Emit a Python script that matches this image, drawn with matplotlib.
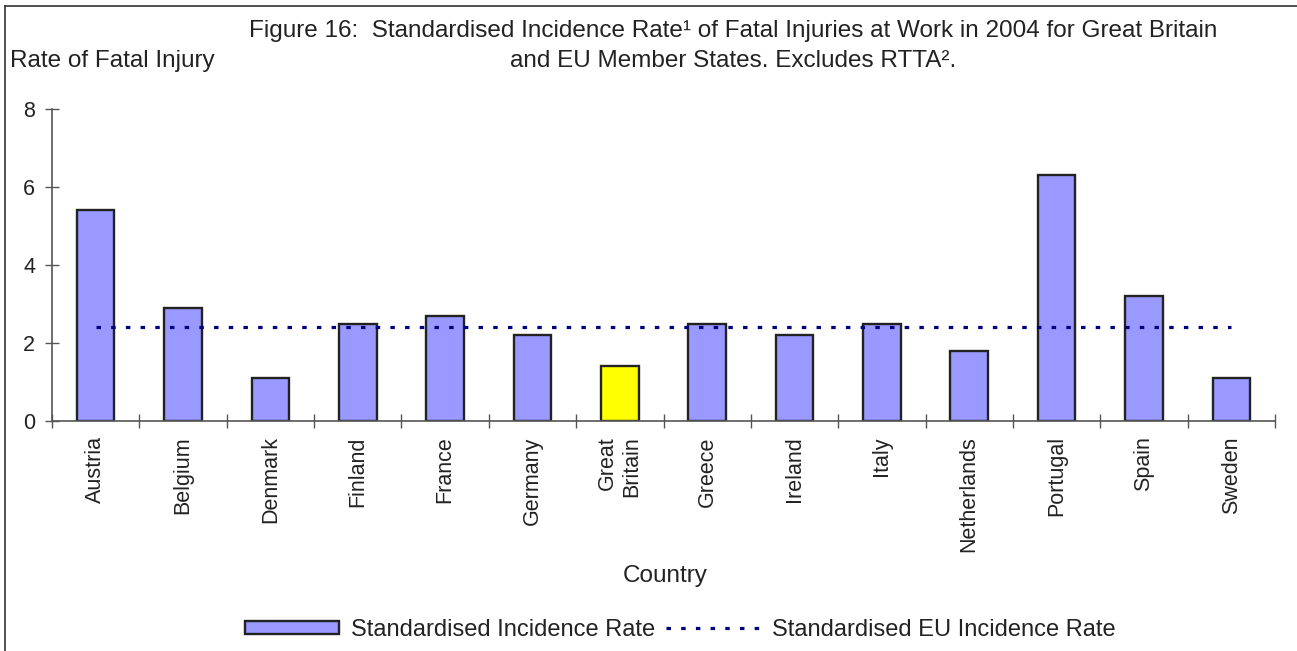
import numpy as np
import matplotlib
matplotlib.use("Agg")
import matplotlib.pyplot as plt
from matplotlib.lines import Line2D
from matplotlib.patches import Patch

plt.rcParams['font.family'] = ['Liberation Sans', 'DejaVu Sans']

# data
countries = ['Austria', 'Belgium', 'Denmark', 'Finland', 'France', 'Germany',
             'Great\nBritain', 'Greece', 'Ireland', 'Italy', 'Netherlands',
             'Portugal', 'Spain', 'Sweden']
rates = [5.4, 2.9, 1.1, 2.5, 2.7, 2.2, 1.4, 2.5, 2.2, 2.5, 1.8, 6.3, 3.2, 1.1]
eu_rate = 2.4
highlight = 'Great\nBritain'
y_ticks = [0, 2, 4, 6, 8]

BAR_COLOR = '#9999ff'
GB_COLOR = '#ffff00'
EU_COLOR = '#000080'
AXIS_COLOR = '#555555'
TEXT_COLOR = '#222222'

W, H = 1297, 651
fig = plt.figure(figsize=(W / 100, H / 100), dpi=100)
ax = fig.add_axes([52 / W, 1 - 421 / H, (1275 - 52) / W, 312 / H])

x = np.arange(len(countries))
colors = [GB_COLOR if c == highlight else BAR_COLOR for c in countries]
ax.bar(x, rates, width=0.43, color=colors, edgecolor=TEXT_COLOR,
       linewidth=1.7, zorder=2)
ax.plot(x, [eu_rate] * len(x), color=EU_COLOR, linewidth=2.3,
        linestyle=(0, (1.4, 3.2)), zorder=3)

ax.set_xlim(-0.5, len(countries) - 0.5)
ax.set_ylim(0, 8)
ax.set_yticks(y_ticks)
ax.tick_params(axis='y', direction='inout', length=10, width=1,
               color=AXIS_COLOR, labelsize=15.5, pad=7, labelcolor=TEXT_COLOR)
ax.set_xticks(x)
ax.set_xticklabels(countries, rotation=90, fontsize=15.5, color=TEXT_COLOR,
                   ha='center', va='top', multialignment='right')
ax.set_xticks(np.arange(len(countries) + 1) - 0.5, minor=True)
ax.tick_params(axis='x', which='major', length=0, pad=11)
ax.tick_params(axis='x', which='minor', direction='inout', length=10,
               width=1, color=AXIS_COLOR)

for side in ['top', 'right']:
    ax.spines[side].set_visible(False)
for side in ['left', 'bottom']:
    ax.spines[side].set_color(AXIS_COLOR)
    ax.spines[side].set_linewidth(1.2)

# texts
fig.text(733 / W, 1 - 31 / H,
         'Figure 16:  Standardised Incidence Rate\u00b9 of Fatal Injuries at Work in 2004 for Great Britain',
         ha='center', va='center', fontsize=17.5, color=TEXT_COLOR)
fig.text(733 / W, 1 - 61 / H,
         'and EU Member States. Excludes RTTA\u00b2.',
         ha='center', va='center', fontsize=17.5, color=TEXT_COLOR)
fig.text(10 / W, 1 - 61 / H, 'Rate of Fatal Injury',
         ha='left', va='center', fontsize=17.5, color=TEXT_COLOR)
fig.text(665 / W, 1 - 576 / H, 'Country',
         ha='center', va='center', fontsize=17.5, color=TEXT_COLOR)

# legend
handles = [Patch(facecolor=BAR_COLOR, edgecolor=TEXT_COLOR, linewidth=1.7),
           Line2D([0], [0], color=EU_COLOR, linewidth=2.3,
                  linestyle=(0, (1.4, 3.2)))]
labels = ['Standardised Incidence Rate', 'Standardised EU Incidence Rate']
fig.legend(handles, labels, loc='center', bbox_to_anchor=(680 / W, 1 - 630 / H),
           ncol=2, frameon=False, fontsize=17, handlelength=4.0,
           handleheight=0.5, handletextpad=0.5, columnspacing=0.45,
           labelcolor=TEXT_COLOR)

# frame lines of the original figure (top and left only)
fig.add_artist(Line2D([5 / W, 1], [1 - 6 / H, 1 - 6 / H],
                      transform=fig.transFigure, color='#333333', linewidth=1.2))
fig.add_artist(Line2D([5 / W, 5 / W], [0, 1 - 6 / H],
                      transform=fig.transFigure, color='#333333', linewidth=1.2))

fig.savefig('out.png', dpi=100)
